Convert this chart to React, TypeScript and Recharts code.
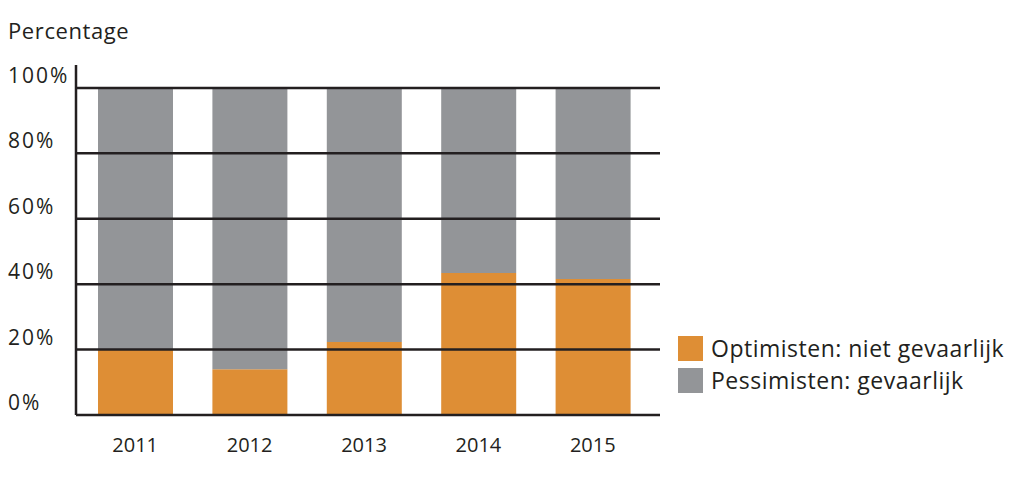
import { BarChart, Bar, XAxis, YAxis, ReferenceLine } from "recharts";

const years = ["2011", "2012", "2013", "2014", "2015"];
const optimisten = [20, 14, 22.3, 43.4, 41.6];
const pessimisten = [80, 86, 77.7, 56.6, 58.4];
const yTicks = [0, 20, 40, 60, 80, 100];

const ORANGE = "#de8e35";
const GRAY = "#939598";
const INK = "#231f20";
const FONT = "'Open Sans', sans-serif";

const data = years.map((year, i) => ({
  year,
  optimisten: optimisten[i],
  pessimisten: pessimisten[i],
}));

const legendItems = [
  { label: "Optimisten: niet gevaarlijk", color: ORANGE },
  { label: "Pessimisten: gevaarlijk", color: GRAY },
];

// labels sit just above their gridline, left aligned at the page edge
function YTick({ y, payload }: any) {
  return (
    <text
      x={8}
      y={y}
      dy={-5}
      textAnchor="start"
      fill={INK}
      fontSize={21}
      letterSpacing={2}
      fontFamily={FONT}
    >
      {payload.value}%
    </text>
  );
}

export default function App() {
  return (
    <div style={{ position: "absolute", left: 0, top: 0, width: 1024, height: 485, background: "#fff" }}>
      <div
        style={{
          position: "absolute",
          left: 8,
          top: 15,
          fontFamily: FONT,
          fontSize: 22,
          letterSpacing: 0.6,
          color: INK,
        }}
      >
        Percentage
      </div>
      <BarChart
        width={1024}
        height={485}
        data={data}
        margin={{ top: 65, right: 364, bottom: 40, left: 8 }}
        barSize={75}
      >
        <XAxis
          dataKey="year"
          height={30}
          axisLine={{ stroke: INK, strokeWidth: 2.5 }}
          tickLine={false}
          tick={{ fill: INK, fontSize: 20, fontFamily: FONT }}
          tickMargin={17}
          padding={{ left: 2, right: 10 }}
        />
        <YAxis
          width={68}
          domain={[0, 107]}
          ticks={yTicks}
          axisLine={{ stroke: INK, strokeWidth: 2.5 }}
          tickLine={false}
          tick={<YTick />}
          allowDataOverflow
        />
        <Bar dataKey="optimisten" stackId="a" fill={ORANGE} isAnimationActive={false} />
        <Bar dataKey="pessimisten" stackId="a" fill={GRAY} isAnimationActive={false} />
        {yTicks.slice(1).map((t) => (
          <ReferenceLine key={t} y={t} stroke={INK} strokeWidth={2.5} />
        ))}
      </BarChart>
      <div style={{ position: "absolute", left: 678, top: 332, fontFamily: FONT }}>
        {legendItems.map((item) => (
          <div key={item.label} style={{ display: "flex", alignItems: "center", height: 32 }}>
            <span style={{ width: 25, height: 25, backgroundColor: item.color, marginRight: 8 }} />
            <span style={{ fontSize: 23, letterSpacing: 0.5, color: INK }}>{item.label}</span>
          </div>
        ))}
      </div>
    </div>
  );
}
